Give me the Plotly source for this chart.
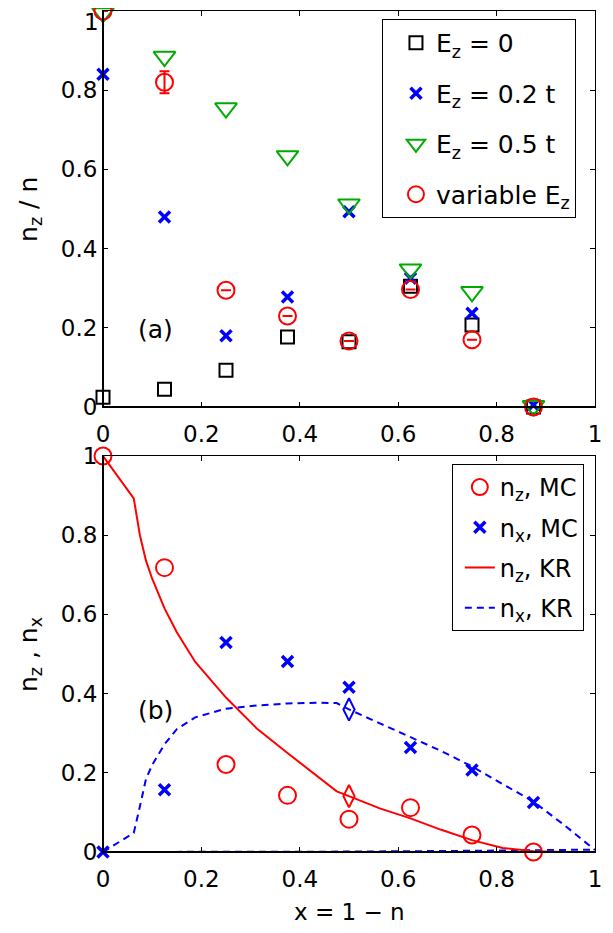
import plotly.graph_objects as go

# ---------------- data ----------------
x_pts = [0, 0.125, 0.25, 0.375, 0.5, 0.625, 0.75, 0.875]

# panel (a)
ez_0 = [0.025, 0.045, 0.093, 0.177, 0.165, 0.305, 0.207, 0.0]
ez_02 = [0.84, 0.48, 0.18, 0.278, 0.493, 0.325, 0.237, 0.005]
ez_05 = [0.995, 0.885, 0.755, 0.634, 0.512, 0.348, 0.291, 0.003]
ez_var = [1.0, 0.82, 0.295, 0.23, 0.167, 0.297, 0.17, 0.0]
ez_var_err = [0, 0.028, 0, 0, 0, 0, 0, 0]

# panel (b)
nz_mc = [1.0, 0.718, 0.221, 0.143, 0.083, 0.112, 0.043, 0.0]
nx_mc = [0.0, 0.157, 0.529, 0.481, 0.416, 0.264, 0.207, 0.125]
dia_x = [0.5]
dia_nz = [0.141]
dia_nx = [0.36]

kr_x = [0, 0.0625, 0.075, 0.0875, 0.1, 0.125, 0.15, 0.1875, 0.25, 0.3125, 0.375,
        0.4375, 0.475, 0.5, 0.5625, 0.625, 0.6875, 0.75, 0.8125, 0.875, 0.9375, 1.0]
kr_nz = [1.0, 0.893, 0.80, 0.735, 0.69, 0.615, 0.555, 0.48, 0.39, 0.312, 0.25,
         0.19, 0.153, 0.141, 0.11, 0.085, 0.056, 0.03, 0.01, 0.002, 0.0, 0.0]
kr_nx = [0.0, 0.048, 0.115, 0.185, 0.22, 0.272, 0.31, 0.34, 0.362, 0.37, 0.375,
         0.377, 0.376, 0.36, 0.325, 0.291, 0.255, 0.216, 0.172, 0.127, 0.068, 0.005]

base_x = [0, 0.25, 0.5, 0.75, 1.0]
base_nz = [0, 0, 0, 0, 0]
base_nx = [0, 0.0, 0.001, 0.003, 0.006]

tick_vals = [0, 0.2, 0.4, 0.6, 0.8, 1]
tick_text = ["0", "0.2", "0.4", "0.6", "0.8", "1"]
# top-panel y labels: the "1" at the very top is drawn separately, nudged into the page
tick_text_top_y = ["0", "0.2", "0.4", "0.6", "0.8", ""]

RED = "rgb(255,0,0)"
BLUE = "rgb(0,0,255)"
GREEN = "rgb(0,170,0)"
BLACK = "black"
FONT = "DejaVu Sans, Liberation Sans, sans-serif"
FS = 25
TFS = 23
DASH = "7px,5px"

fig = go.Figure()

# ---- panel (a) ----
fig.add_trace(go.Scatter(x=x_pts, y=ez_0, mode="markers", name="E<sub>z</sub> = 0",
                         marker=dict(symbol="square-open", size=13, color=BLACK, line=dict(width=2)),
                         xaxis="x", yaxis="y", legend="legend", legendgroup="a1", cliponaxis=False))
fig.add_trace(go.Scatter(x=x_pts, y=ez_02, mode="markers", name="E<sub>z</sub> = 0.2 t",
                         marker=dict(symbol="x-thin", size=11, color=BLUE, line=dict(width=3.5, color=BLUE)),
                         xaxis="x", yaxis="y", legend="legend", legendgroup="a2", cliponaxis=False))
fig.add_trace(go.Scatter(x=x_pts, y=ez_05, mode="markers", name="E<sub>z</sub> = 0.5 t",
                         marker=dict(symbol="triangle-down-open", size=19, color=GREEN, line=dict(width=2)),
                         xaxis="x", yaxis="y", legend="legend", legendgroup="a3", cliponaxis=False))
fig.add_trace(go.Scatter(x=x_pts, y=ez_var, mode="markers", name="variable E<sub>z</sub>",
                         marker=dict(symbol="circle-open", size=17, color=RED, line=dict(width=2)),
                         error_y=dict(type="data", array=ez_var_err, visible=True, color=RED,
                                      thickness=2, width=5),
                         xaxis="x", yaxis="y", legend="legend", legendgroup="a4", cliponaxis=False))

# ---- panel (b) ----
fig.add_trace(go.Scatter(x=base_x, y=base_nz, mode="lines", showlegend=False,
                         line=dict(color=RED, width=2), xaxis="x2", yaxis="y2"))
fig.add_trace(go.Scatter(x=base_x, y=base_nx, mode="lines", showlegend=False,
                         line=dict(color=BLUE, width=2, dash=DASH), xaxis="x2", yaxis="y2"))
fig.add_trace(go.Scatter(x=kr_x, y=kr_nz, mode="lines", showlegend=False,
                         line=dict(color=RED, width=2), xaxis="x2", yaxis="y2"))
fig.add_trace(go.Scatter(x=kr_x, y=kr_nx, mode="lines", showlegend=False,
                         line=dict(color=BLUE, width=2, dash=DASH), xaxis="x2", yaxis="y2"))
fig.add_trace(go.Scatter(x=dia_x, y=dia_nz, mode="markers", showlegend=False,
                         marker=dict(symbol="diamond-tall-open", size=16, color=RED, line=dict(width=2)),
                         xaxis="x2", yaxis="y2"))
fig.add_trace(go.Scatter(x=dia_x, y=dia_nx, mode="markers", showlegend=False,
                         marker=dict(symbol="diamond-tall-open", size=16, color=BLUE, line=dict(width=2)),
                         xaxis="x2", yaxis="y2"))
fig.add_trace(go.Scatter(x=x_pts, y=nz_mc, mode="markers", name="n<sub>z</sub>, MC",
                         marker=dict(symbol="circle-open", size=17, color=RED, line=dict(width=2)),
                         xaxis="x2", yaxis="y2", legend="legend2", legendgroup="b1", cliponaxis=False))
fig.add_trace(go.Scatter(x=x_pts, y=nx_mc, mode="markers", name="n<sub>x</sub>, MC",
                         marker=dict(symbol="x-thin", size=11, color=BLUE, line=dict(width=3.5, color=BLUE)),
                         xaxis="x2", yaxis="y2", legend="legend2", legendgroup="b2", cliponaxis=False))
# legend-only entries for KR lines
fig.add_trace(go.Scatter(x=[None], y=[None], mode="lines", name="n<sub>z</sub>, KR",
                         line=dict(color=RED, width=2), xaxis="x2", yaxis="y2",
                         legend="legend2", legendgroup="b3"))
fig.add_trace(go.Scatter(x=[None], y=[None], mode="lines", name="n<sub>x</sub>, KR",
                         line=dict(color=BLUE, width=2, dash=DASH), xaxis="x2", yaxis="y2",
                         legend="legend2", legendgroup="b4"))

ax_common = dict(range=[0, 1], tickvals=tick_vals, showgrid=False,
                 zeroline=False, showline=True, linecolor=BLACK, linewidth=1, mirror="ticks",
                 ticks="inside", ticklen=5, tickcolor=BLACK, tickwidth=1, automargin=False,
                 ticklabeloverflow="allow",
                 tickfont=dict(family=FONT, size=TFS, color=BLACK))

top_dom = [0.5291, 1.0]
bot_dom = [0.0, 0.4709]

# page body has an 8px margin: figure is 16px smaller than the window
fig.update_layout(
    width=597, height=917,
    margin=dict(l=95, r=10, t=3, b=73, autoexpand=False),
    paper_bgcolor="white", plot_bgcolor="white",
    font=dict(family=FONT, size=FS, color=BLACK),
    xaxis=dict(domain=[0, 1], anchor="y", ticklabelstandoff=6, ticktext=tick_text, **ax_common),
    yaxis=dict(domain=top_dom, anchor="x", ticktext=tick_text_top_y, **ax_common),
    xaxis2=dict(domain=[0, 1], anchor="y2", ticklabelstandoff=6, ticktext=tick_text, **ax_common),
    yaxis2=dict(domain=bot_dom, anchor="x2", ticktext=tick_text, **ax_common),
    legend=dict(x=0.567, y=0.9905, xanchor="left", yanchor="top", bgcolor="white",
                bordercolor=BLACK, borderwidth=1, font=dict(family=FONT, size=FS),
                tracegroupgap=15, indentation=13),
    legend2=dict(x=0.709, y=0.4614, xanchor="left", yanchor="top", bgcolor="white",
                 bordercolor=BLACK, borderwidth=1, font=dict(family=FONT, size=24),
                 tracegroupgap=6, indentation=7),
    showlegend=True,
)

# thicker left / bottom axis lines
for xr, yr in (("x", "y"), ("x2", "y2")):
    fig.add_shape(type="line", xref=f"{xr} domain", yref=f"{yr} domain", x0=0, x1=0, y0=0, y1=1,
                  line=dict(color=BLACK, width=2))
    fig.add_shape(type="line", xref=f"{xr} domain", yref=f"{yr} domain", x0=0, x1=1, y0=0, y1=0,
                  line=dict(color=BLACK, width=2))

# top "1" tick label of panel (a), kept fully inside the page
fig.add_annotation(text=tick_text[-1], xref="x domain", yref="y domain", x=-0.006, y=1.0,
                   xanchor="right", yanchor="top", yshift=3, showarrow=False, borderpad=0,
                   font=dict(family=FONT, size=TFS, color=BLACK))

# axis titles and panel labels
fig.add_annotation(text="n<sub>z</sub> / n", xref="paper", yref="paper", x=-0.1484, y=0.7646,
                   xanchor="center", yanchor="middle", textangle=-90, showarrow=False,
                   font=dict(family=FONT, size=FS))
fig.add_annotation(text="n<sub>z</sub> , n<sub>x</sub>", xref="paper", yref="paper", x=-0.1484,
                   y=0.2354, xanchor="center", yanchor="middle", textangle=-90, showarrow=False,
                   font=dict(family=FONT, size=FS))
fig.add_annotation(text="x = 1 \u2212 n", xref="paper", yref="paper", x=0.5, y=-0.0862,
                   xanchor="center", yanchor="bottom", yshift=-3, showarrow=False,
                   font=dict(family=FONT, size=23))
fig.add_annotation(text="(a)", xref="paper", yref="paper", x=0.1077, y=0.6207,
                   xanchor="center", yanchor="middle", showarrow=False, font=dict(family=FONT, size=FS))
fig.add_annotation(text="(b)", xref="paper", yref="paper", x=0.1077, y=0.1677,
                   xanchor="center", yanchor="middle", showarrow=False, font=dict(family=FONT, size=FS))

fig.write_html("out.html")
